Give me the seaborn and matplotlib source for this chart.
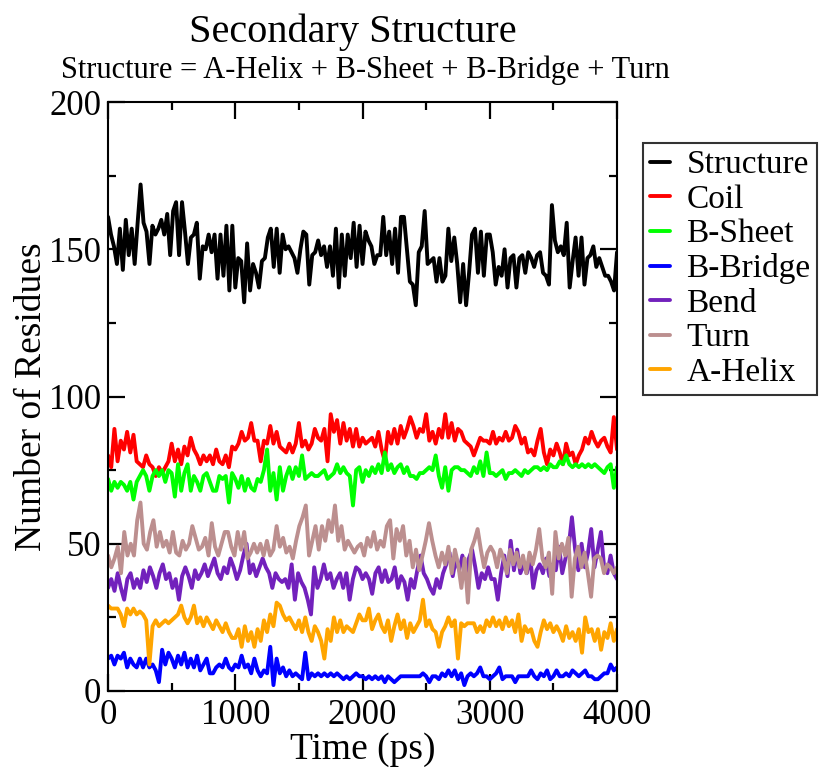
import numpy as np
import pandas as pd
import matplotlib
matplotlib.use("Agg")
import matplotlib.pyplot as plt
import seaborn as sns
from matplotlib.ticker import MultipleLocator

# valores (numero de residuos), tiempo 0-4000 ps
structure = [161, 155, 151, 145, 157, 143, 160, 148, 157, 145, 159, 172, 159, 156, 145, 158, 155, 157,
             160, 155, 162, 148, 163, 166, 148, 166, 156, 145, 154, 155, 159, 140, 151, 150, 155, 149,
             155, 140, 155, 141, 158, 136,
             158, 137, 147, 146, 132, 152, 136, 145, 142, 137, 146, 147, 154, 157, 144, 157, 142, 155,
             150, 151, 149, 147, 142, 150, 156, 155, 138, 148, 149, 153, 148, 151, 144, 151, 141, 157,
             137, 155, 141, 155, 147, 159, 144,
             158, 145, 156, 153, 151, 145, 148, 148, 161, 148, 156, 145, 157, 142, 161, 161, 150, 139,
             138, 131, 149, 151, 163, 145, 146, 147, 139, 147, 139, 141, 157, 146, 154, 145, 132, 145,
             131, 142, 155, 157, 142, 156, 141, 155,
             155, 149, 138, 144, 141, 150, 137, 147, 148, 137, 147, 148, 142, 149, 147, 144, 148, 149,
             142, 141, 138, 165, 153, 149, 151, 148, 159, 137, 146, 154, 141, 154, 138, 147, 148, 151,
             144, 147, 144, 141, 141, 139, 136, 149]
coil = [80, 76, 89, 78, 85, 82, 88, 81, 87, 78, 77, 76, 80, 77, 76, 73, 76, 74, 76, 78, 84, 78,
        82, 77, 83, 80, 86, 82, 80, 77, 80, 78, 80, 77, 82, 78,
        77, 80, 76, 83, 82, 84, 88, 85, 86, 91, 85, 85, 78, 85, 84, 90, 84, 88, 83, 82, 81, 84,
        81, 84, 91, 83, 85, 82, 84, 89, 86, 85, 89, 78, 94, 88, 92, 84, 91, 85, 89, 83,
        89, 83, 86, 84, 85, 86, 83, 88, 82, 78, 88, 84, 89, 84, 90, 86, 89, 93, 90, 86, 89, 88,
        94, 85, 88, 84, 89, 86, 94, 86, 91, 85, 89, 88, 85, 84, 83, 80, 83, 86, 85,
        85, 84, 88, 84, 86, 85, 88, 85, 86, 90, 88, 84, 86, 81, 82, 80, 85, 89, 81, 77, 82, 80,
        84, 81, 77, 84, 80, 81, 77, 80, 82, 86, 84, 88, 85, 83, 85, 86, 83, 81, 93, 82]
bsheet = [72, 68, 71, 69, 71, 70, 68, 71, 65, 71, 73, 75, 73, 68, 73, 75, 73, 75, 71, 75, 74, 66,
          77, 68, 74, 77, 68, 73, 71, 68, 73, 74, 71, 68, 68, 73, 72,
          73, 64, 74, 72, 69, 73, 68, 72, 69, 68, 72, 71, 75, 82, 68, 74, 65, 76, 68, 73, 76, 72,
          76, 73, 80, 72, 73, 74, 73, 73, 74, 75, 72, 73, 74, 77, 74, 76, 74, 73, 63, 75, 76,
          71, 75, 73, 76, 74, 77, 74, 81, 75, 77, 74, 76, 77, 74, 76, 73, 73, 72, 74, 74, 75, 76,
          75, 80, 73, 69, 76, 68, 75, 76, 76, 75, 75, 74, 73, 76, 74, 78, 73, 81, 74,
          74, 73, 74, 75, 72, 74, 74, 75, 74, 73, 75, 74, 75, 76, 76, 75, 76, 75, 77, 76, 76, 78,
          77, 80, 77, 76, 77, 76, 77, 76, 77, 76, 77, 76, 75, 74, 76, 77, 69, 76]
bbridge = [11, 12, 9, 12, 11, 13, 8, 11, 9, 8, 11, 8, 11, 8, 9, 7, 3, 14, 9, 13, 11, 8, 12, 9,
           13, 8, 11, 8, 12, 7, 9, 11, 6, 6, 8, 9, 8, 11, 8,
           7, 9, 8, 12, 8, 9, 6, 11, 7, 5, 7, 6, 15, 2, 11, 6, 8, 5, 7, 5, 6, 5, 4, 13, 4, 6, 5,
           6, 5, 6, 5, 6, 5, 6, 5, 4, 5, 4, 5, 6, 5,
           5, 4, 5, 4, 5, 4, 5, 3, 5, 4, 3, 4, 5, 5, 5, 5, 5, 5, 5, 6, 5, 3, 5, 5, 4, 6, 5, 7, 5,
           7, 4, 6, 2, 5, 6, 5, 6, 8, 5, 5,
           4, 5, 6, 8, 4, 5, 5, 5, 3, 5, 5, 5, 5, 7, 5, 4, 6, 5, 7, 4, 5, 7, 5, 5, 6, 5, 7, 6, 5,
           6, 7, 5, 5, 4, 4, 5, 6, 6, 9, 7, 8]
bend = [35, 38, 34, 40, 35, 31, 38, 40, 35, 38, 35, 41, 37, 42, 39, 35, 40, 43, 38, 40, 35, 38,
        31, 39, 42, 39, 35, 41, 38, 40, 43, 39, 42, 45, 40, 38, 42, 40, 45,
        42, 38, 41, 46, 50, 40, 43, 39, 42, 45, 42, 40, 35, 40, 38, 37, 38, 35, 43, 31, 40, 37,
        35, 31, 26, 42, 35, 38, 43, 38, 40, 35, 38, 40, 35, 40, 31, 38, 42, 41, 38,
        40, 38, 33, 40, 42, 37, 41, 37, 38, 42, 35, 39, 37, 31, 38, 35, 41, 46, 40, 38, 35, 33,
        38, 35, 40, 43, 47, 39, 45, 41, 46, 40, 45, 48, 42, 35, 40, 38, 42, 38,
        38, 31, 40, 46, 39, 51, 41, 48, 40, 43, 40, 46, 35, 41, 43, 40, 45, 39, 43, 41, 49, 40,
        45, 49, 59, 48, 41, 50, 42, 47, 55, 42, 48, 54, 42, 40, 46, 40, 38]
turn = [46, 42, 45, 49, 40, 54, 46, 50, 46, 58, 64, 50, 48, 54, 58, 49, 54, 49, 51, 47, 54, 47,
        46, 51, 48, 50, 56, 52, 48, 49, 52, 46, 57, 49, 46, 50, 54,
        54, 49, 46, 54, 48, 54, 45, 47, 50, 47, 50, 46, 51, 46, 48, 56, 49, 52, 47, 49, 45, 51,
        56, 59, 63, 46, 51, 56, 48, 56, 51, 58, 54, 63, 51, 56, 48, 51, 49, 47, 49,
        50, 46, 52, 49, 54, 48, 51, 49, 56, 58, 45, 55, 51, 56, 46, 51, 42, 48, 41, 46, 51, 57,
        51, 46, 42, 47, 43, 49, 40, 48, 43, 35, 45, 30, 48, 51, 55, 48, 42, 47, 49,
        47, 42, 48, 45, 40, 48, 43, 47, 42, 46, 40, 47, 43, 48, 55, 45, 42, 47, 33, 54, 45, 50,
        46, 52, 32, 45, 49, 42, 47, 40, 32, 45, 46, 45, 40, 43, 42, 40, 42]
ahelix = [29, 28, 28, 28, 26, 22, 28, 26, 28, 26, 27, 26, 24, 9, 22, 24, 22, 23, 24, 23, 24, 25,
          26, 29, 25, 23, 25, 29, 23, 25, 22, 25, 23, 21, 24, 22, 20, 23, 20, 18,
          18, 21, 15, 22, 17, 20, 15, 21, 17, 24, 20, 26, 22, 30, 29, 26, 24, 25, 23, 21, 24, 20,
          25, 20, 17, 22, 20, 17, 11, 21, 17, 25, 20, 24, 20, 22, 21, 20, 23, 26, 24,
          24, 28, 21, 24, 26, 22, 20, 24, 17, 22, 26, 21, 24, 18, 23, 20, 22, 24, 31, 22, 24, 21,
          20, 15, 20, 22, 25, 22, 24, 11, 23, 22, 23, 23, 23, 20, 22, 20, 24, 22, 25,
          22, 24, 21, 25, 22, 24, 20, 26, 17, 22, 20, 21, 17, 15, 20, 24, 21, 23, 20, 22, 20, 17,
          22, 18, 20, 17, 21, 13, 25, 20, 21, 17, 21, 14, 20, 18, 23, 17, 21]

series_names = ["Structure", "Coil", "B-Sheet", "B-Bridge", "Bend", "Turn", "A-Helix"]
series_values = [structure, coil, bsheet, bbridge, bend, turn, ahelix]
colors = ["#000000", "#ff0000", "#00ff00", "#0000ff", "#7221bc", "#bc8f8f", "#ffa500"]

frames = []
for name, vals in zip(series_names, series_values):
    frames.append(pd.DataFrame({"time": np.linspace(0, 4000, len(vals)),
                                "value": vals, "series": name}))
df = pd.concat(frames, ignore_index=True)

sns.set_style("ticks")
plt.rcParams["font.family"] = ["Liberation Serif", "DejaVu Serif"]
plt.rcParams["text.color"] = "black"
plt.rcParams["axes.labelcolor"] = "black"

fig = plt.figure(figsize=(8.26, 7.70), dpi=100)
ax = fig.add_axes([0.1308, 0.1026, 0.6162, 0.7649])

sns.lineplot(data=df, x="time", y="value", hue="series", hue_order=series_names,
             palette=colors, estimator=None, linewidth=2.8, ax=ax)

ax.set_xlim(0, 4000)
ax.set_ylim(0, 200)
ax.xaxis.set_major_locator(MultipleLocator(1000))
ax.xaxis.set_minor_locator(MultipleLocator(500))
ax.yaxis.set_major_locator(MultipleLocator(50))
ax.yaxis.set_minor_locator(MultipleLocator(25))
ax.tick_params(which="both", direction="in", top=True, right=True, width=1.6,
               labelsize=25, colors="black")
ax.tick_params(which="major", length=12)
ax.tick_params(which="minor", length=6)
ax.tick_params(axis="x", which="major", pad=6)
ax.tick_params(axis="y", which="major", pad=5)
for sp in ax.spines.values():
    sp.set_linewidth(1.5)
    sp.set_color("black")

ax.set_xlabel("Time (ps)", fontsize=27, labelpad=0)
ax.set_ylabel("Number of Residues", fontsize=27, labelpad=0)

fig.text(0.427, 0.958, "Secondary Structure", fontsize=29, ha="center", va="center")
fig.text(0.442, 0.909, "Structure = A-Helix + B-Sheet + B-Bridge + Turn", fontsize=22,
         ha="center", va="center")

leg = ax.legend(loc="upper left", bbox_to_anchor=(1.051, 0.930), fontsize=24,
                frameon=True, fancybox=False, edgecolor="black", borderaxespad=0,
                handlelength=0.6, handletextpad=0.5, labelspacing=0.12,
                borderpad=0.2)
leg.get_frame().set_linewidth(1.5)
for line in leg.get_lines():
    line.set_linewidth(2.8)

fig.savefig("out.png", dpi=100)
